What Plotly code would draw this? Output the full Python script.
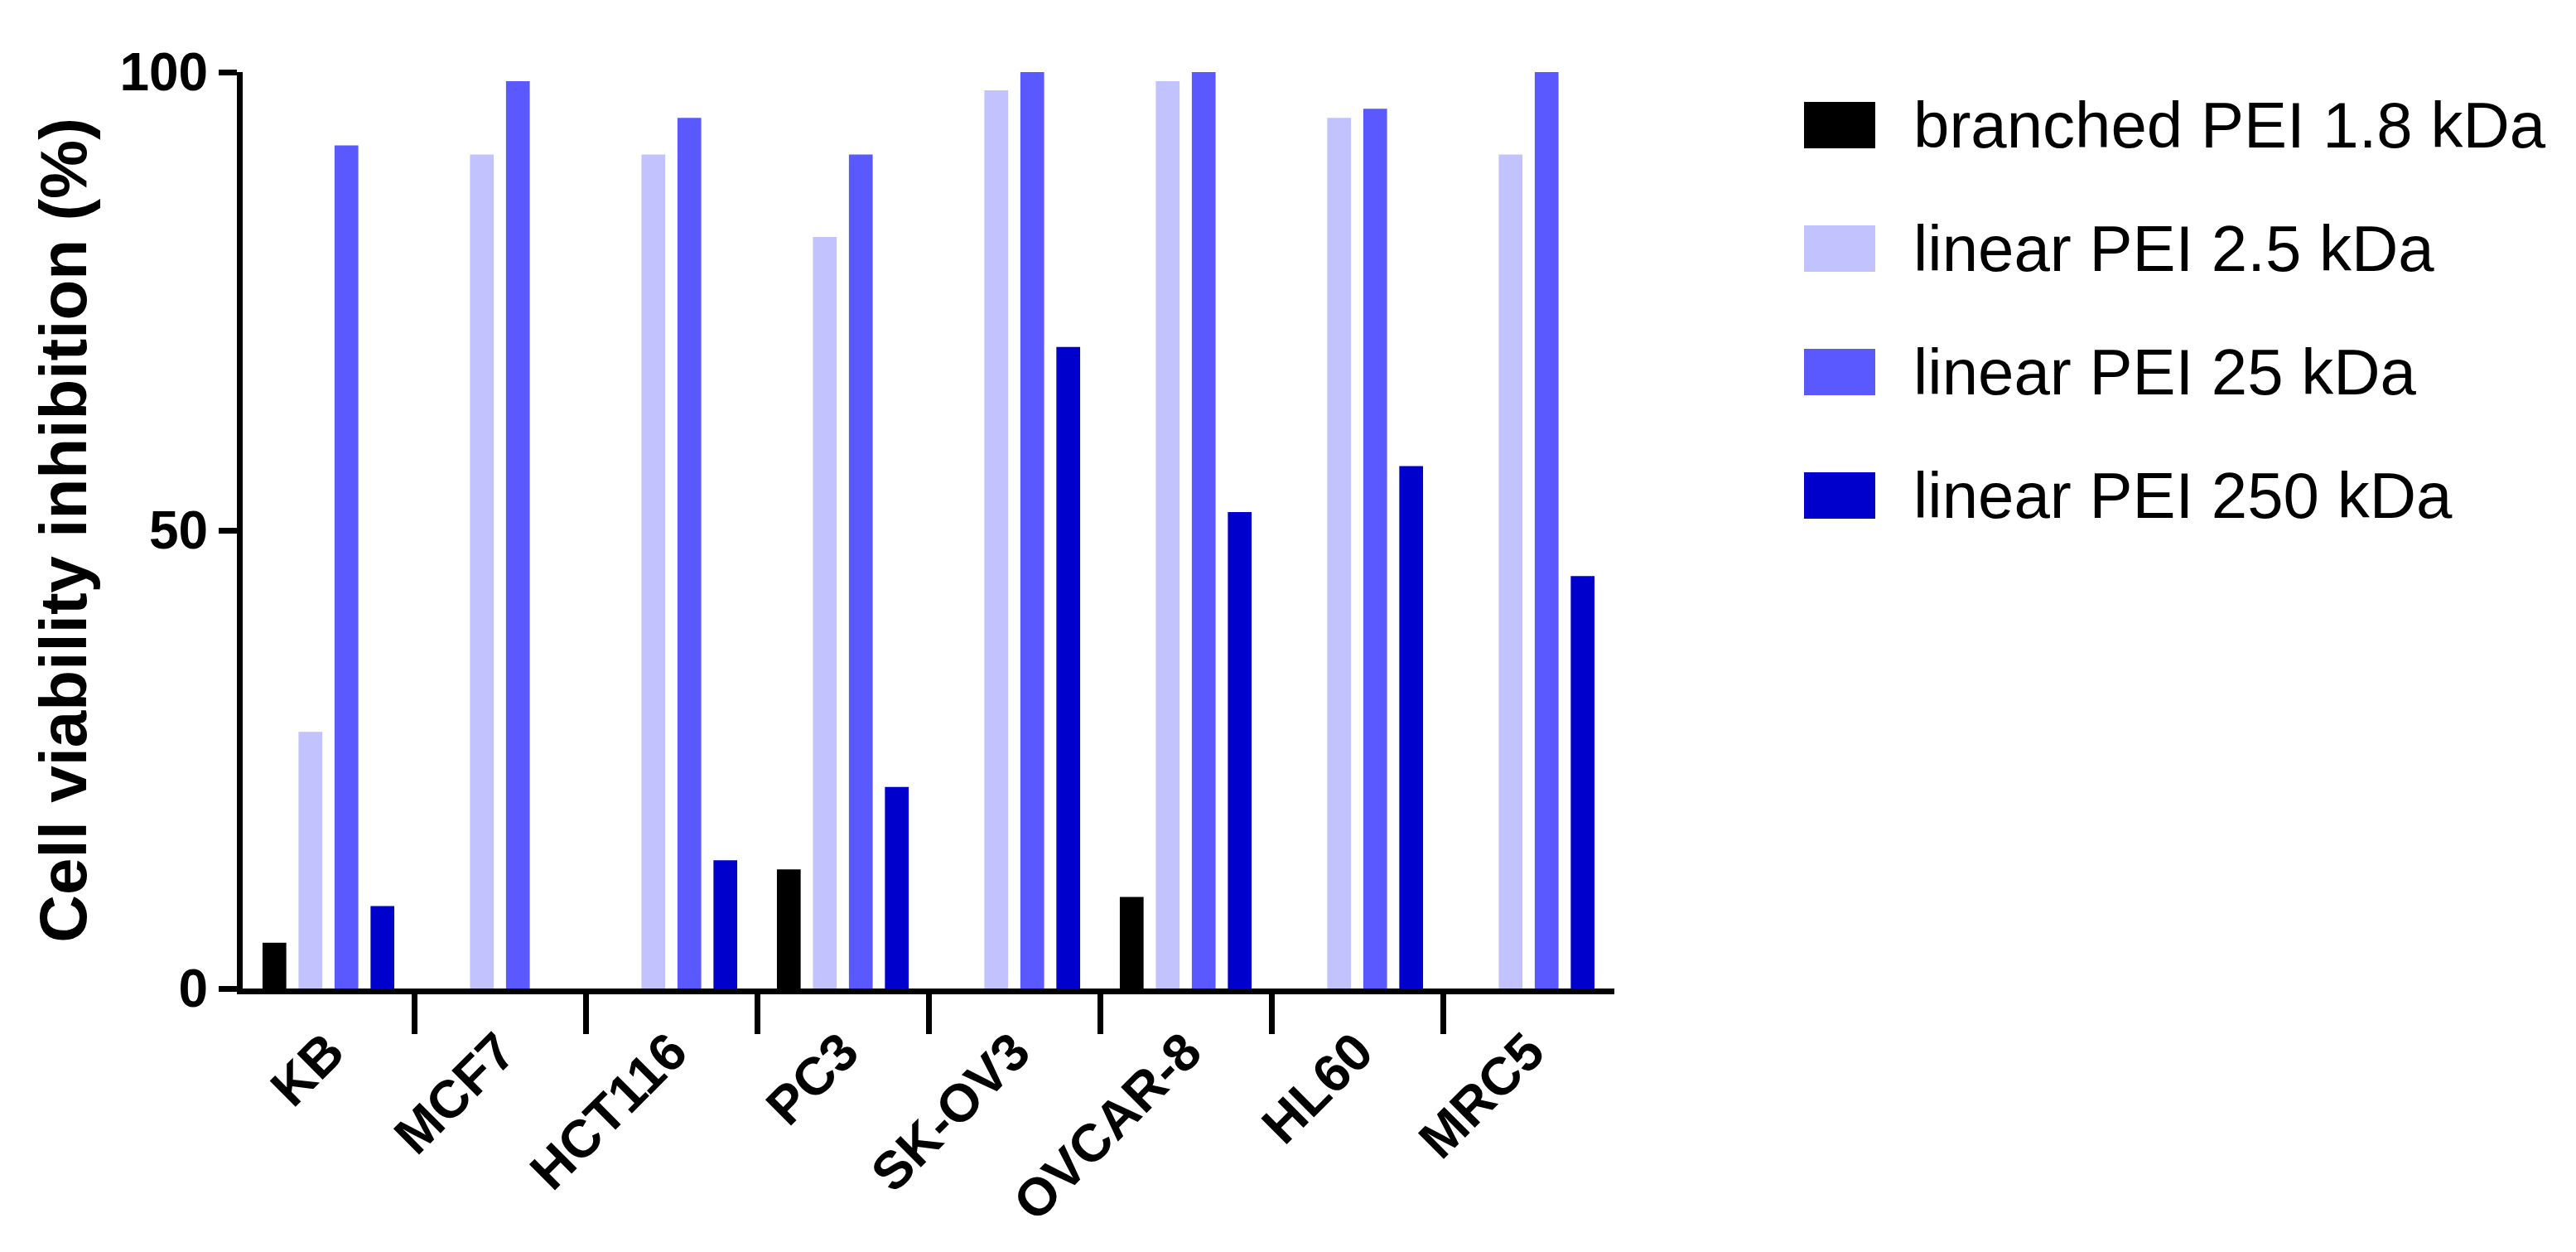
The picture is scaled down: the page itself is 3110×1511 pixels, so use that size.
import plotly.graph_objects as go

cell_lines = ["KB", "MCF7", "HCT116", "PC3", "SK-OV3", "OVCAR-8", "HL60", "MRC5"]

series_names = [
    "branched PEI 1.8 kDa",
    "linear PEI 2.5 kDa",
    "linear PEI 25 kDa",
    "linear PEI 250 kDa",
]
branched_1_8 = [5, 0, 0, 13, 0, 10, 0, 0]
linear_2_5 = [28, 91, 91, 82, 98, 99, 95, 91]
linear_25 = [92, 99, 95, 91, 100, 100, 96, 100]
linear_250 = [9, 0, 14, 22, 70, 52, 57, 45]

y_ticks = [0, 50, 100]

colors = ["#000000", "#c2c2ff", "#5959ff", "#0000cc"]
series_values = [branched_1_8, linear_2_5, linear_25, linear_250]

W, H = 3110, 1511
L, R, T, B = 285, 1169, 79, 326
plot_w = W - L - R
plot_h = H - T - B
FONT = "Arial, Liberation Sans, sans-serif"

fig = go.Figure()

for name, vals, col in zip(series_names, series_values, colors):
    fig.add_trace(go.Bar(
        x=cell_lines,
        y=vals,
        name=name,
        marker=dict(color=col, line=dict(width=0)),
        showlegend=False,
    ))

# empty trace so the overlay axis with the boundary ticks gets drawn
fig.add_trace(go.Scatter(x=[], y=[], xaxis="x2", yaxis="y",
                         showlegend=False, hoverinfo="skip"))

# custom legend with big swatches (plotly's own legend symbols are tiny)
def px_x(px):
    return (px - L) / plot_w

def px_y(py):
    return (H - B - py) / plot_h

row_y = [143, 292, 441, 590]
for name, col, yc in zip(series_names, colors, row_y):
    fig.add_shape(
        type="rect", xref="paper", yref="paper",
        x0=px_x(2170), x1=px_x(2256),
        y0=px_y(yc + 28), y1=px_y(yc - 28),
        fillcolor=col, line=dict(width=0),
    )
    fig.add_annotation(
        x=px_x(2300), y=px_y(yc), xref="paper", yref="paper",
        text=name, showarrow=False, xanchor="left", yanchor="middle",
        font=dict(family=FONT, size=78, color="black"),
    )

fig.update_layout(
    width=W, height=H,
    margin=dict(l=L, r=R, t=T, b=B),
    paper_bgcolor="white",
    plot_bgcolor="white",
    barmode="group",
    bargap=0.16,
    bargroupgap=0.34,
    font=dict(family=FONT, color="black"),
    xaxis=dict(
        type="category",
        range=[-0.5, len(cell_lines) - 0.5],
        showline=True, linecolor="black", linewidth=7,
        ticks="outside", ticklen=6, tickcolor="rgba(0,0,0,0)",
        tickangle=-45,
        tickfont=dict(family=FONT, size=64, color="black", weight="bold"),
        showgrid=False, zeroline=False,
    ),
    # second axis only for the boundary ticks between cell lines
    xaxis2=dict(
        overlaying="x", anchor="y", side="bottom",
        range=[-0.5, len(cell_lines) - 0.5],
        tickvals=[i + 0.5 for i in range(len(cell_lines) - 1)],
        ticks="outside", ticklen=54, tickwidth=7, tickcolor="black",
        showticklabels=False, showline=False, showgrid=False, zeroline=False,
    ),
    yaxis=dict(
        range=[0, 100],
        tickvals=y_ticks,
        showline=True, linecolor="black", linewidth=7,
        ticks="outside", ticklen=22, tickwidth=7, tickcolor="black",
        tickfont=dict(family=FONT, size=64, color="black", weight="bold"),
        showgrid=False, zeroline=False,
        title=dict(
            text="Cell viability inhibition (%)",
            font=dict(family=FONT, size=80, color="black", weight="bold"),
            standoff=16,
        ),
    ),
)

fig.write_html("out.html")
